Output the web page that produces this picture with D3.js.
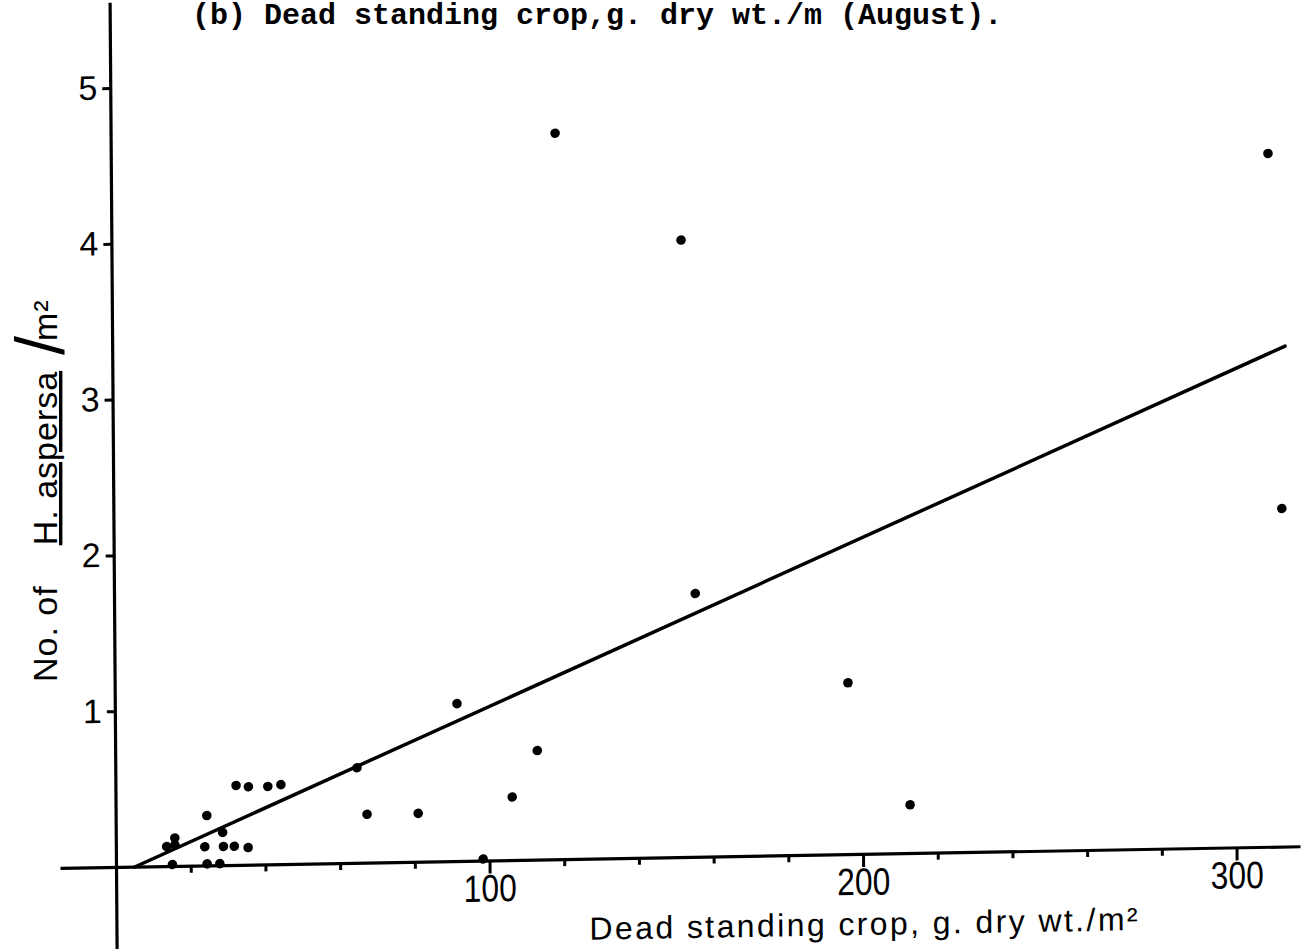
<!DOCTYPE html>
<html>
<head>
<meta charset="utf-8">
<script src="https://cdnjs.cloudflare.com/ajax/libs/d3/7.8.5/d3.min.js"></script>
<style>
body { margin: 0; background: #fff; }
</style>
</head>
<body>
<script>
//Data
//dead standing crop, g dry wt per m2 (x) and number of snails per m2 (y)
var deadCrop = [119.0, 152.5, 309.8, 312.8, 155.6, 196.3, 212.7, 91.6, 113.0, 106.2,
    81.0, 67.3, 64.7, 98.3, 32.3, 35.6, 40.8, 44.3, 24.4, 28.6,
    28.8, 31.7, 35.4, 23.8, 13.6, 15.8, 15.8, 15.1, 24.4, 27.8];
var snailCount = [4.66, 3.96, 4.45, 2.17, 1.69, 1.10, 0.31, 1.01, 0.70, 0.405,
    0.31, 0.31, 0.61, 0.01, 0.51, 0.50, 0.50, 0.51, 0.32, 0.21,
    0.12, 0.12, 0.11, 0.12, 0.125, 0.18, 0.135, 0.01, 0.01, 0.01];

var xTickValues = [100, 200, 300];
var xMinorTicks = [20, 40, 60, 80, 120, 140, 160, 180, 220, 240, 260, 280];
var yTickValues = [1, 2, 3, 4, 5];

//fitted regression line: y = a + b*x, drawn between two x values
var fitRange = [5, 314];
var fitCoef = [-0.054, 0.0104];

var points = deadCrop.map(function(d, i){
    return {x: d, y: snailCount[i]};
});

var svg = d3.select("body")
    .append("svg")
    .attr("width", 1304)
    .attr("height", 949)
    .style("background-color", "#fff");

//typewritten caption at the top
svg.append("text")
    .attr("x", 192)
    .attr("y", 24)
    .attr("font-family", "Liberation Mono, monospace")
    .attr("font-weight", "bold")
    .attr("font-size", 30)
    .attr("fill", "#000")
    .text("(b) Dead standing crop,g. dry wt./m (August).");

//the scan is a little skewed, so the plot group gets a small shear
var plot = svg.append("g")
    .attr("transform", "matrix(1,-0.0175,0.0074,1,116,867)");

var x = d3.scaleLinear()
    .domain([-15, 317])
    .range([-56, 1184]);

var y = d3.scaleLinear()
    .domain([-0.55, 5.55])
    .range([85.7, -864.7]);

//minor ticks on x
var xMinor = plot.append("g")
    .call(d3.axisBottom(x).tickValues(xMinorTicks).tickSize(7).tickFormat(""));
xMinor.select(".domain").remove();
xMinor.selectAll(".tick line").attr("stroke-width", 3);

//main x axis
var xAxis = plot.append("g")
    .call(d3.axisBottom(x).tickValues(xTickValues).tickSize(13).tickSizeOuter(0).tickPadding(1));
xAxis.select(".domain").attr("stroke-width", 3.2);
xAxis.selectAll(".tick line").attr("stroke-width", 3);
xAxis.selectAll(".tick text")
    .attr("font-family", "Liberation Sans, Arial, sans-serif")
    .attr("font-size", 38)
    .attr("textLength", 53)
    .attr("lengthAdjust", "spacingAndGlyphs");

//y axis
var yAxis = plot.append("g")
    .call(d3.axisLeft(y).tickValues(yTickValues).tickFormat(d3.format("d"))
        .tickSize(8).tickSizeOuter(0).tickPadding(5));
yAxis.select(".domain").attr("stroke-width", 3.2);
yAxis.selectAll(".tick line").attr("stroke-width", 3);
yAxis.selectAll(".tick text")
    .attr("font-family", "Liberation Sans, Arial, sans-serif")
    .attr("font-size", 34);

//regression line
plot.append("line")
    .attr("x1", x(fitRange[0]))
    .attr("y1", y(fitCoef[0] + fitCoef[1] * fitRange[0]))
    .attr("x2", x(fitRange[1]))
    .attr("y2", y(fitCoef[0] + fitCoef[1] * fitRange[1]))
    .attr("stroke", "#000")
    .attr("stroke-width", 3.5)
    .attr("stroke-linecap", "round");

//the sample points
plot.selectAll(".pt")
    .data(points)
    .enter()
    .append("circle")
    .attr("class", "pt")
    .attr("cx", function(d){ return x(d.x); })
    .attr("cy", function(d){ return y(d.y); })
    .attr("r", 4.8)
    .attr("fill", "#000");

//x axis title
plot.append("text")
    .attr("x", 473)
    .attr("y", 81)
    .attr("font-family", "Liberation Sans, Arial, sans-serif")
    .attr("font-size", 32)
    .attr("textLength", 548)
    .attr("fill", "#000")
    .text("Dead standing crop, g. dry wt./m\u00b2");

//y axis title, rotated, with the species name underlined
var yLab = svg.append("text")
    .attr("transform", "translate(57,682) rotate(-90)")
    .attr("font-family", "Liberation Sans, Arial, sans-serif")
    .attr("font-size", 34)
    .attr("letter-spacing", 1)
    .attr("fill", "#000");
yLab.append("tspan").text("No. of");
yLab.append("tspan")
    .attr("dx", 40)
    .style("text-decoration", "underline")
    .text("H. aspersa");
yLab.append("tspan")
    .attr("dx", 16)
    .attr("dy", 7)
    .attr("font-size", 68)
    .text("/");
yLab.append("tspan")
    .attr("dx", -6)
    .attr("dy", -7)
    .text("m\u00b2");
</script>
</body>
</html>
